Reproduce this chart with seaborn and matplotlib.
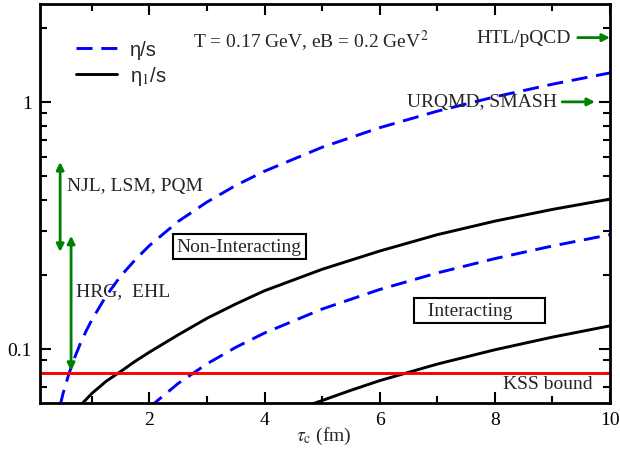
import numpy as np
import pandas as pd
import matplotlib
matplotlib.use("Agg")
import matplotlib.pyplot as plt
import seaborn as sns

sns.set_theme(style="ticks")
plt.rcParams['font.family'] = ['Liberation Serif', 'DejaVu Serif']
plt.rcParams['mathtext.fontset'] = 'stix'

# ---- data ----
# non-interacting
tau_ni_eta = [0.45, 0.5, 0.6, 0.7, 0.8, 0.9, 1.0, 1.25, 1.5, 1.75, 2.0, 2.5, 3.0, 3.5, 4.0, 5.0, 6.0, 7.0, 8.0, 9.0, 10.0]
ni_eta = [0.059, 0.066, 0.079, 0.092, 0.105, 0.118, 0.131, 0.164, 0.197, 0.229, 0.262, 0.328, 0.393, 0.459,
          0.524, 0.655, 0.786, 0.917, 1.048, 1.179, 1.31]
tau_ni_eta1 = [0.8, 1.0, 1.25, 1.5, 1.75, 2.0, 2.5, 3.0, 3.5, 4.0, 5.0, 6.0, 7.0, 8.0, 9.0, 10.0]
ni_eta1 = [0.059, 0.066, 0.074, 0.081, 0.089, 0.097, 0.114, 0.133, 0.152, 0.172, 0.210, 0.249, 0.290, 0.329, 0.367, 0.404]
# interacting
tau_in_eta = [2.0, 2.5, 3.0, 3.5, 4.0, 5.0, 6.0, 7.0, 8.0, 9.0, 10.0]
in_eta = [0.058, 0.0725, 0.087, 0.1015, 0.116, 0.145, 0.174, 0.203, 0.232, 0.261, 0.290]
tau_in_eta1 = [4.8, 5.5, 6.0, 7.0, 8.0, 9.0, 10.0]
in_eta1 = [0.0595, 0.068, 0.0744, 0.0868, 0.0992, 0.1116, 0.124]

kss = 1.0 / (4 * np.pi)

# model ranges (tau position, low, high)
njl_range = (0.45, 0.247, 0.571)
hrg_range = (0.64, 0.0815, 0.287)
htl_level = 1.82
urqmd_level = 1.0

fig = plt.figure(figsize=(6.2, 4.52), dpi=100)
ax = fig.add_axes([40/620, 1-404/452, 570/620, 399/452])

dash = (0, (5.5, 3.0))
lw = 2.1
sns.lineplot(x=tau_ni_eta, y=ni_eta, ax=ax, color='#0000ff', linestyle=dash, lw=lw, label=u'η/s')
sns.lineplot(x=tau_ni_eta1, y=ni_eta1, ax=ax, color='black', lw=lw, label=u'η$_1$/s')
sns.lineplot(x=tau_in_eta, y=in_eta, ax=ax, color='#0000ff', linestyle=dash, lw=lw)
sns.lineplot(x=tau_in_eta1, y=in_eta1, ax=ax, color='black', lw=lw)
ax.axhline(kss, color='#ff0000', lw=2.1)

ax.set_yscale('log')
ax.set_xlim(0.1, 10)
ax.set_ylim(0.0604, 2.49)

ax.set_xticks([2, 4, 6, 8, 10])
ax.set_xticks([1, 3, 5, 7, 9], minor=True)
ax.set_yticks([0.1, 1])
ax.set_yticklabels(['0.1', '1'])
ax.set_yticks([0.07, 0.08, 0.09, 0.2, 0.3, 0.4, 0.5, 0.6, 0.7, 0.8, 0.9, 2], minor=True)
ax.yaxis.set_minor_formatter(matplotlib.ticker.NullFormatter())
ax.tick_params(which='both', direction='in', top=True, right=True, width=1.5, colors='black',
               labelsize=14)
ax.tick_params(which='major', length=8, pad=6)
ax.tick_params(which='minor', length=5)
for s in ax.spines.values():
    s.set_linewidth(2)
    s.set_color('black')

ax.set_xlabel(r'$\tau_{\rm c}$ (fm)', fontsize=14)
ax.xaxis.set_label_coords(0.498, -0.055)
ax.set_ylabel('')

leg = ax.legend(loc='upper left', bbox_to_anchor=(0.064, 0.91), frameon=False, fontsize=14.5,
                handlelength=2.0, handletextpad=0.65, labelspacing=0.25, borderpad=0, borderaxespad=0)
for t in leg.get_texts():
    t.set_family(['Liberation Sans', 'DejaVu Sans'])

fs = 14
ax.text(2.76, 1.78, r'T = 0.17 GeV, eB = 0.2 GeV$^2$', fontsize=fs, va='center')

green = '#008000'
arrow_kw = dict(arrowstyle='-|>', color=green, lw=2, mutation_scale=11, shrinkA=0, shrinkB=0)
ax.annotate('', xy=(10.0, htl_level), xytext=(9.44, htl_level), arrowprops=arrow_kw)
ax.text(9.31, htl_level, 'HTL/pQCD', fontsize=fs, ha='right', va='center')
ax.annotate('', xy=(9.74, urqmd_level), xytext=(9.17, urqmd_level), arrowprops=arrow_kw)
ax.text(9.08, urqmd_level, 'URQMD, SMASH', fontsize=fs, ha='right', va='center')

arrow2_kw = dict(arrowstyle='<|-|>', color=green, lw=2, mutation_scale=11, shrinkA=0, shrinkB=0)
ax.annotate('', xy=(njl_range[0], njl_range[2]), xytext=(njl_range[0], njl_range[1]), arrowprops=arrow2_kw)
ax.text(0.57, 0.457, 'NJL, LSM, PQM', fontsize=fs, va='center')
ax.annotate('', xy=(hrg_range[0], hrg_range[2]), xytext=(hrg_range[0], hrg_range[1]), arrowprops=arrow2_kw)
ax.text(0.73, 0.172, 'HRG,  EHL', fontsize=fs, va='center')

box = dict(boxstyle='square,pad=0.2', fc='white', ec='black', lw=1.5)
ax.text(3.56, 0.26, 'Non-Interacting', fontsize=fs, ha='center', va='center', bbox=box)
ax.text(6.66, 0.143, '  Interacting      ', fontsize=fs, ha='left', va='center', bbox=box)
ax.text(9.70, 0.0722, 'KSS bound', fontsize=fs, ha='right', va='center')

plt.savefig('out.png', dpi=100)
